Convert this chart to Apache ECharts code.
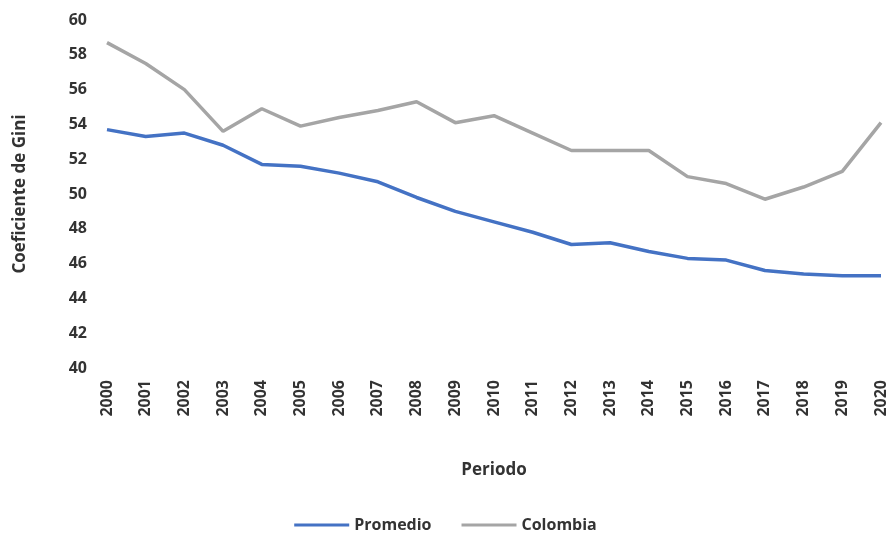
<!DOCTYPE html>
<html><head><meta charset="utf-8">
<script src="https://cdn.jsdelivr.net/npm/echarts@6/dist/echarts.min.js"></script>
<style>html,body{margin:0;padding:0;background:#fff}#c{width:891px;height:540px}</style>
</head><body><div id="c"></div>
<script>
const years = ['2000','2001','2002','2003','2004','2005','2006','2007','2008','2009','2010','2011','2012','2013','2014','2015','2016','2017','2018','2019','2020'];
const promedio = [53.7,53.3,53.5,52.8,51.7,51.6,51.2,50.7,49.8,49.0,48.4,47.8,47.1,47.2,46.7,46.3,46.2,45.6,45.4,45.3,45.3];
const colombia = [58.7,57.5,56.0,53.6,54.9,53.9,54.4,54.8,55.3,54.1,54.5,53.5,52.5,52.5,52.5,51.0,50.6,49.7,50.4,51.3,54.1];
const font = 'Open Sans, DejaVu Sans, sans-serif';
const chart = echarts.init(document.getElementById('c'));
chart.setOption({
  animation:false,
  grid:{left:107,right:10,top:20,bottom:172},
  legend:{bottom:2,left:'center',itemWidth:55,itemHeight:3,itemGap:30,
    icon:'rect',textStyle:{fontFamily:font,fontSize:16,color:'#333',fontWeight:'bold'},
    data:['Promedio','Colombia']},
  xAxis:{type:'category',data:years,boundaryGap:false,
    name:'Periodo',nameLocation:'middle',nameGap:94,
    nameTextStyle:{fontFamily:font,fontSize:17,fontWeight:'bold',color:'#333'},
    axisLine:{show:false},axisTick:{show:false},
    axisLabel:{rotate:90,fontFamily:font,fontSize:16,fontWeight:'bold',color:'#333',margin:12}},
  yAxis:{type:'value',min:40,max:60,interval:2,
    name:'Coeficiente de Gini',nameLocation:'middle',nameGap:78,
    nameTextStyle:{fontFamily:font,fontSize:17,fontWeight:'bold',color:'#333'},
    splitLine:{show:false},axisLine:{show:false},axisTick:{show:false},
    axisLabel:{fontFamily:font,fontSize:16,fontWeight:'bold',color:'#333',margin:20}},
  series:[
    {name:'Promedio',type:'line',data:promedio,symbol:'none',lineStyle:{width:3.5,color:'#4472C4'},itemStyle:{color:'#4472C4'}},
    {name:'Colombia',type:'line',data:colombia,symbol:'none',lineStyle:{width:3.5,color:'#A5A5A5'},itemStyle:{color:'#A5A5A5'}}
  ]
});
</script></body></html>
